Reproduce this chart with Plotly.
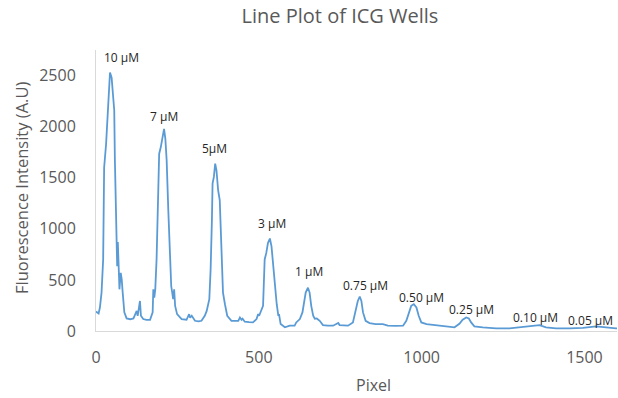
import plotly.graph_objects as go

# Line profile across the ICG dilution wells
pixel = [0, 4, 8, 12, 17, 22, 25, 31, 38, 43, 48, 53, 56, 58, 61, 63, 65, 67, 70, 72,
         76, 79, 82, 87, 94, 105, 115, 122, 125, 128, 132, 135, 138, 145, 155, 166, 174, 176, 179, 182,
         186, 191, 194, 199, 204, 209, 213, 217, 222, 227, 229, 231, 237, 240, 243, 249, 263, 278, 286, 289,
         294, 304, 315, 324, 334, 340, 348, 352, 356, 358, 362, 366, 370, 375, 380, 385, 390, 396, 403, 416,
         437, 442, 447, 450, 457, 470, 482, 493, 498, 501, 508, 513, 518, 523, 528, 534, 539, 544, 549, 555,
         560, 562, 567, 580, 595, 610, 615, 626, 634, 638, 644, 651, 656, 661, 667, 672, 678, 687, 697, 712,
         728, 738, 744, 748, 762, 774, 789, 797, 804, 810, 815, 820, 828, 840, 859, 881, 896, 920, 943, 953,
         961, 968, 976, 984, 991, 999, 1015, 1045, 1075, 1101, 1116, 1126, 1137, 1145, 1152, 1162, 1188, 1229, 1270, 1300,
         1331, 1350, 1362, 1382, 1413, 1454, 1495, 1536, 1557, 1597, 1600]
intensity = [190, 178, 172, 230, 376, 700, 1600, 1830, 2320, 2530, 2480, 2320, 2160, 1670, 1185, 877, 634, 870, 634, 408,
             570, 505, 376, 182, 123, 115, 123, 165, 197, 149, 230, 294, 149, 117, 108, 110, 182, 408, 327, 408,
             700, 1347, 1735, 1800, 1880, 1978, 1880, 1670, 1185, 634, 505, 440, 311, 408, 246, 165, 117, 110, 165, 130,
             149, 100, 95, 100, 149, 197, 311, 602, 1088, 1444, 1508, 1638, 1573, 1379, 1282, 764, 376, 262, 149, 100,
             100, 133, 110, 120, 91, 86, 84, 117, 165, 149, 214, 246, 700, 764, 861, 905, 828, 634, 408, 262,
             149, 165, 68, 36, 52, 52, 84, 117, 182, 279, 376, 424, 376, 246, 149, 120, 123, 100, 58, 52,
             52, 68, 78, 58, 55, 52, 84, 182, 294, 337, 294, 182, 100, 78, 68, 68, 52, 50, 52, 100,
             182, 246, 262, 230, 149, 84, 68, 58, 52, 36, 70, 110, 133, 123, 84, 45, 36, 26, 26, 36,
             52, 60, 58, 36, 26, 26, 30, 45, 36, 26, 26]

# Concentration labels placed above each well's peak
well_labels = ["10 μM", "7 μM", "5μM", "3 μM", "1 μM", "0.75 μM", "0.50 μM", "0.25 μM", "0.10 μM", "0.05 μM"]
label_x = [77, 209, 365, 540, 655, 827, 1000, 1153, 1349, 1519]
label_y = [2680, 2100, 1790, 1050, 580, 447, 325, 215, 130, 105]

x_ticks = [0, 500, 1000, 1500]
y_ticks = [0, 500, 1000, 1500, 2000, 2500]

GREY = "#595959"
FONT = "Open Sans"

fig = go.Figure()
fig.add_trace(go.Scatter(
    x=pixel, y=intensity, mode="lines",
    line=dict(color="#5B9BD5", width=1.8),
    hoverinfo="skip", showlegend=False,
))

for txt, lx, ly in zip(well_labels, label_x, label_y):
    fig.add_annotation(x=lx, y=ly, text=txt, showarrow=False,
                       xanchor="center", yanchor="middle",
                       font=dict(family=FONT, size=12, color="#262626"))

fig.add_annotation(text="Pixel", xref="paper", yref="paper", x=0.532, y=-0.192,
                   xanchor="center", yanchor="middle", showarrow=False,
                   font=dict(family=FONT, size=16, color=GREY))
fig.add_annotation(text="Fluorescence Intensity (A.U)", xref="paper", yref="paper",
                   x=-0.142, y=0.509, xanchor="center", yanchor="middle",
                   textangle=-90, showarrow=False,
                   font=dict(family=FONT, size=16.5, color=GREY))

fig.update_layout(
    width=618, height=398,
    margin=dict(l=96, r=1, t=50, b=67),
    paper_bgcolor="white", plot_bgcolor="white",
    font=dict(family=FONT, color=GREY),
    title=dict(text="Line Plot of ICG Wells", x=340 / 618, xref="container", xanchor="center",
               y=1 - 16 / 398, yref="container", yanchor="middle",
               font=dict(family=FONT, size=20, color=GREY)),
    xaxis=dict(range=[0, 1600], tickvals=x_ticks, showgrid=False, zeroline=False,
               showline=True, linecolor="#d9d9d9", linewidth=1, ticks="",
               ticklabelstandoff=12, tickfont=dict(size=16, color=GREY)),
    yaxis=dict(range=[0, 2750], tickvals=y_ticks, showgrid=False, zeroline=False,
               showline=True, linecolor="#d9d9d9", linewidth=1, ticks="",
               ticklabelstandoff=16, tickfont=dict(size=16, color=GREY)),
)

fig.write_html("out.html")
